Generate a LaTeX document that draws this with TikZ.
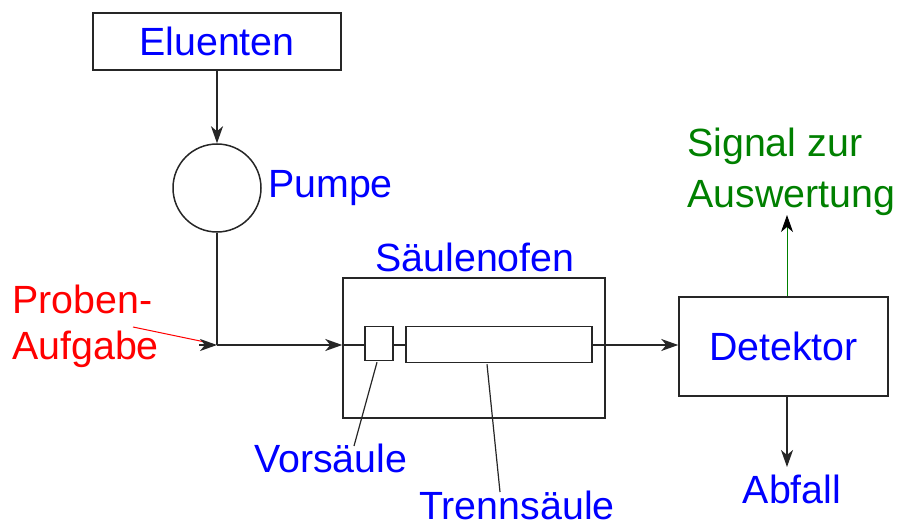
\documentclass[tikz,border=0pt]{standalone}
\usepackage{fontspec}
\setmainfont{Liberation Sans}
\usetikzlibrary{arrows.meta,calc}
\definecolor{lblblue}{RGB}{0,0,255}
\definecolor{lblred}{RGB}{255,0,0}
\definecolor{lblgreen}{RGB}{0,128,0}
\tikzset{
  x=1bp, y=-1bp,
  every node/.style={font=\fontsize{39.5}{46}\selectfont},
  boxnode/.style={draw=black!85, line width=1.5bp, rectangle, inner sep=0pt, fill=white},
  lbl/.style={inner sep=0pt, text=lblblue},
  wire/.style={draw=black!85, line width=1.5bp},
  flow/.style={wire, -{Stealth[length=17bp,width=12bp,inset=5bp]}},
  leader/.style={draw=black!85, line width=1.2bp},
}
\begin{document}
\begin{tikzpicture}
\useasboundingbox (0,0) rectangle (901,525);
% boxes
\node[boxnode, minimum width=248bp, minimum height=57bp, text=lblblue] (eluent) at (217,41.5) {Eluenten};
\node[draw=black!85, line width=1.5bp, circle, minimum size=88bp, inner sep=0pt] (pump) at (217,188) {};
\node[boxnode, minimum width=262bp, minimum height=140bp] (oven) at (474,348) {};
\node[boxnode, minimum width=28bp, minimum height=34bp] (vor) at (379,343.5) {};
\node[boxnode, minimum width=186bp, minimum height=36bp] (trenn) at (499,344.5) {};
\node[boxnode, minimum width=209bp, minimum height=99bp, text=lblblue] (det) at (783.5,346.5) {Detektor};
% labels
\node[lbl, anchor=base west] (pumpe) at (268,198) {Pumpe};
\node[lbl, anchor=base] (ofen) at (475,272) {Säulenofen};
\node[lbl, anchor=base west, text=lblred] (proben) at (12,314) {Proben-};
\node[lbl, anchor=base west, text=lblred] (aufgabe) at (12,360) {Aufgabe};
\node[lbl, anchor=base west] (vorlbl) at (254,472) {Vorsäule};
\node[lbl, anchor=base] (trennlbl) at (517,519) {Trennsäule};
\node[lbl, anchor=base west, text=lblgreen] (sig1) at (687,157) {Signal zur};
\node[lbl, anchor=base west, text=lblgreen] (sig2) at (687,208) {Auswertung};
\node[lbl, anchor=base] (abfall) at (792,503) {Abfall};
% coordinates
\coordinate (junc) at (217,345);
\coordinate (probe) at (133,327);
\coordinate (probeend) at (205,342);
\coordinate (tipstart) at (199,345);
\coordinate (sigend) at (787,215);
\coordinate (abfend) at (787,467);
\coordinate (vorend) at (354,446);
\coordinate (trennend) at (500,492);
% connectors
\draw[flow] (eluent.south) -- (pump.north);
\draw[wire] (pump.south) -- (junc);
\draw[draw=lblred, line width=1bp] (probe) -- (probeend);
\draw[flow] (tipstart) -- (junc);
\draw[flow] (junc) -- (oven.west |- junc);
\draw[wire] (oven.west |- junc) -- (vor.west |- junc);
\draw[wire] (vor.east |- junc) -- (trenn.west |- junc);
\draw[flow] (trenn.east |- junc) -- (det.west |- junc);
\draw[draw=lblgreen, line width=1bp, -{Stealth[length=17bp,width=12bp,inset=5bp,color=black]}] (det.north -| sigend) -- (sigend);
\draw[flow] (det.south -| abfend) -- (abfend);
\draw[leader] ($(vor.south)+(-2,1)$) -- (vorend);
\draw[leader] ($(trenn.south)+(-12,1)$) -- (trennend);
\end{tikzpicture}
\end{document}
